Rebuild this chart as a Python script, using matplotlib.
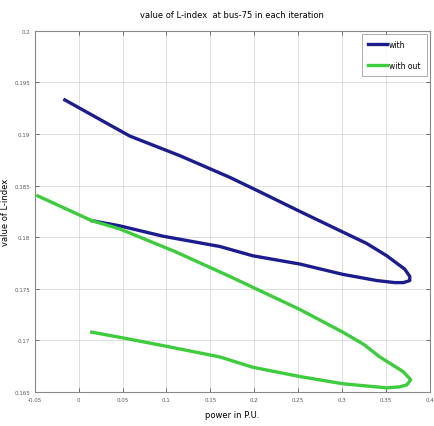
import matplotlib
matplotlib.use("Agg")
import matplotlib.pyplot as plt

# L-index at bus 75 vs loading (power in p.u.), with and without compensation
x_with = [-0.0158, 0.0582, 0.1152, 0.1721, 0.2063, 0.2519, 0.3009, 0.3280, 0.3510,
          0.3715, 0.3772, 0.3772, 0.3700, 0.3601, 0.3396, 0.3009, 0.2519, 0.1983,
          0.1608, 0.0958, 0.0468, 0.0149]
y_with = [0.1933, 0.1898, 0.1879, 0.1858, 0.1844, 0.1825, 0.1805, 0.1794, 0.1782,
          0.1769, 0.1762, 0.1758, 0.1756, 0.1756, 0.1758, 0.1764, 0.1774, 0.1782,
          0.1791, 0.1801, 0.1811, 0.1816]

x_without = [-0.0466, 0.0149, 0.0468, 0.1100, 0.1721, 0.2519, 0.3009, 0.3250, 0.3430,
             0.3692, 0.3783, 0.3740, 0.3658, 0.3510, 0.3009, 0.2519, 0.1983, 0.1608,
             0.0958, 0.0468, 0.0149]
y_without = [0.1840, 0.1816, 0.1808, 0.1786, 0.1762, 0.1730, 0.1708, 0.1696, 0.1684,
             0.1670, 0.1662, 0.1657, 0.1655, 0.1654, 0.1658, 0.1665, 0.1674, 0.1684,
             0.1695, 0.1703, 0.1708]

x_ticks = [-0.05, 0, 0.05, 0.1, 0.15, 0.2, 0.25, 0.3, 0.35, 0.4]
y_ticks = [0.165, 0.17, 0.175, 0.18, 0.185, 0.19, 0.195, 0.2]

fig = plt.figure(figsize=(4.35, 4.27), dpi=100)
ax = fig.add_axes([0.080, 0.0796, 0.908, 0.846])

ax.plot(x_with, y_with, color="#1c1c8f", lw=2.4, label="with",
        solid_joinstyle="round")
ax.plot(x_without, y_without, color="#3ccc3c", lw=2.4, label="with out",
        solid_joinstyle="round")

ax.set_xlim(-0.05, 0.4)
ax.set_ylim(0.165, 0.2)
ax.set_xticks(x_ticks)
ax.set_yticks(y_ticks)
ax.set_xticklabels([f"{v:g}" for v in x_ticks])
ax.set_yticklabels([f"{v:g}" for v in y_ticks])
ax.tick_params(direction="in", top=True, right=True, labelsize=4, length=3,
               width=0.6, colors="#555555")
ax.grid(True, color="#d8d8d8", lw=0.6)
for s in ax.spines.values():
    s.set_color("#888888")
    s.set_linewidth(0.8)

ax.set_title("value of L-index  at bus-75 in each iteration", fontsize=6,
             pad=10)
ax.set_xlabel("power in P.U.", fontsize=6, labelpad=6)
ax.set_ylabel("value of L-index", fontsize=6)
ax.yaxis.set_label_coords(-0.062, 0.5)

leg = ax.legend(loc="upper right", fontsize=5.5, handlelength=2.4, frameon=True,
                fancybox=False, edgecolor="#888888", borderpad=0.8,
                labelspacing=1.6, handletextpad=0.3, borderaxespad=0.4)
leg.get_frame().set_linewidth(0.6)

fig.savefig("out.png", dpi=100, facecolor="white")
